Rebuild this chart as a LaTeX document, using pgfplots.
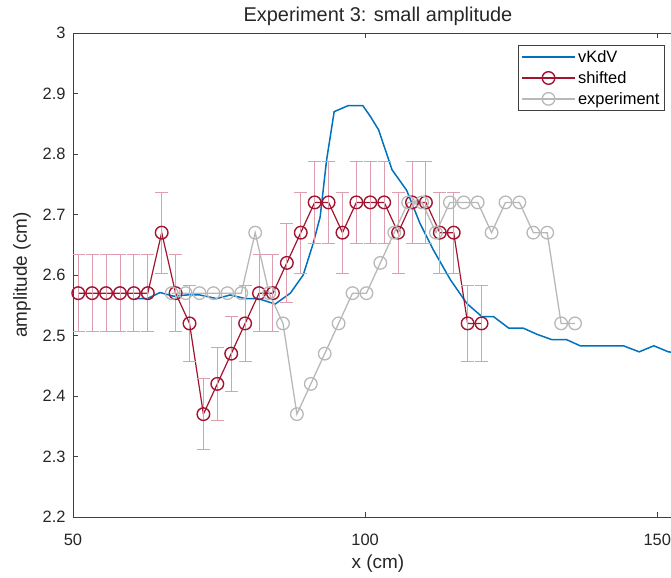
\documentclass[border=0pt]{standalone}
\usepackage{fontspec}
\setmainfont{Liberation Sans}
\usepackage{pgfplots}
\pgfplotsset{compat=1.18}
\usepackage{pgfplotstable}

\definecolor{mblue}{rgb}{0,0.447,0.741}
\definecolor{mred}{rgb}{0.635,0.078,0.184}
\definecolor{mgray}{rgb}{0.72,0.72,0.72}
\definecolor{mpink}{rgb}{0.87,0.62,0.68}

\pgfplotstableread{
x y
60.6 2.561
62.7 2.561
64.9 2.571
67.2 2.565
69.5 2.567
71.7 2.567
74.6 2.561
76.9 2.567
79.5 2.561
81.7 2.561
84.6 2.552
87.2 2.570
89.4 2.600
91.1 2.652
92.3 2.696
93.4 2.790
94.7 2.870
97.1 2.880
99.6 2.880
100.9 2.862
102.3 2.840
104.6 2.774
107.1 2.740
109.4 2.685
111.7 2.641
114.6 2.592
117.4 2.553
120.0 2.531
122.0 2.531
124.6 2.512
127.1 2.512
129.4 2.502
132.0 2.493
134.5 2.493
136.8 2.483
139.4 2.483
142.0 2.483
144.2 2.483
146.9 2.473
149.4 2.483
151.9 2.473
154.4 2.470
}\vkdv

\pgfplotstableread{
x y e
50.90 2.57 0.064
53.28 2.57 0.064
55.66 2.57 0.064
58.04 2.57 0.064
60.42 2.57 0.064
62.80 2.57 0.064
65.18 2.67 0.067
67.56 2.57 0.064
69.94 2.52 0.063
72.32 2.37 0.059
74.70 2.42 0.061
77.08 2.47 0.062
79.46 2.52 0.063
81.84 2.57 0.064
84.22 2.57 0.064
86.60 2.62 0.066
88.98 2.67 0.067
91.36 2.72 0.068
93.74 2.72 0.068
96.12 2.67 0.067
98.50 2.72 0.068
100.88 2.72 0.068
103.26 2.72 0.068
105.64 2.67 0.067
108.02 2.72 0.068
110.40 2.72 0.068
112.78 2.67 0.067
115.16 2.67 0.067
117.54 2.52 0.063
119.92 2.52 0.063
}\shifted

\pgfplotstableread{
x y
66.90 2.57
69.28 2.57
71.66 2.57
74.04 2.57
76.42 2.57
78.80 2.57
81.18 2.67
83.56 2.57
85.94 2.52
88.32 2.37
90.70 2.42
93.08 2.47
95.46 2.52
97.84 2.57
100.22 2.57
102.60 2.62
104.98 2.67
107.36 2.72
109.74 2.72
112.12 2.67
114.50 2.72
116.88 2.72
119.26 2.72
121.64 2.67
124.02 2.72
126.40 2.72
128.78 2.67
131.16 2.67
133.54 2.52
135.92 2.52
}\experiment

\begin{document}
\begin{tikzpicture}
\begin{axis}[
  at={(0,0)}, anchor=south west,
  scale only axis, width=610bp, height=484bp,
  xmin=50, xmax=154.4, ymin=2.2, ymax=3,
  xtick={50,100,150},
  ytick={2.2,2.3,2.4,2.5,2.6,2.7,2.8,2.9,3},
  tick align=inside, major tick length=5bp,
  tick style={black!75, line width=0.6bp},
  axis line style={black!75, line width=0.6bp},
  /pgf/number format/assume math mode=true,
  tick label style={font=\fontsize{16.5}{18}\selectfont, text=black!85},
  xticklabel style={yshift=-14bp},
  yticklabel style={xshift=-4bp},
  title={Experiment 3: small amplitude},
  title style={font=\fontsize{20}{22}\selectfont, text=black!85, yshift=-2bp},
  xlabel={x (cm)}, ylabel={amplitude (cm)},
  label style={font=\fontsize{19}{21}\selectfont, text=black!85},
  xlabel style={yshift=-2bp},
  ylabel style={yshift=5bp},
  legend style={at={(rel axis cs:0.970,0.975)}, anchor=north east,
    font=\fontsize{16.5}{18}\selectfont, draw=black!75, line width=0.6bp,
    row sep=3.5bp, inner sep=3bp, cells={anchor=west}},
  legend cell align=left,
  legend image post style={line width=1.3bp},
  legend image code/.code={
    \draw[mark repeat=2,mark phase=2,#1] plot coordinates {(0cm,0cm) (0.95cm,0cm) (1.9cm,0cm)};
  },
]
\addplot[mblue, line width=1.5bp] table[x=x,y=y] {\vkdv};
\addlegendentry{vKdV}
\addplot[mred, line width=1.2bp, mark=o, mark size=6.3bp,
  mark options={line width=1.4bp},
  error bars/.cd, y dir=both, y explicit,
  error bar style={mpink, line width=0.9bp},
  error mark options={mpink, rotate=90, mark size=6.5bp, line width=0.9bp}]
  table[x=x,y=y,y error=e] {\shifted};
\addlegendentry{shifted}
\addplot[mgray, line width=1.3bp, mark=o, mark size=6.3bp,
  mark options={line width=1.3bp}] table[x=x,y=y] {\experiment};
\addlegendentry{experiment}
\end{axis}
\pgfresetboundingbox
\path[use as bounding box] (-73bp,-61bp) rectangle (598bp,517bp);
\end{tikzpicture}
\end{document}
